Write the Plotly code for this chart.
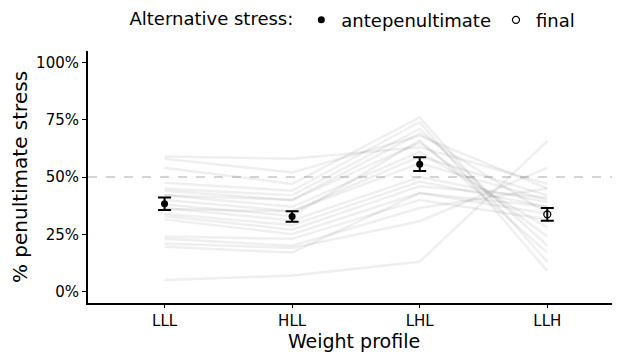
import plotly.graph_objects as go

categories = ["LLL", "HLL", "LHL", "LLH"]

# individual participant profiles (% penultimate stress)
participants = [
    [59, 58, 63, 47],
    [58, 52, 68, 45],
    [54, 47, 76, 13],
    [47.5, 44, 74, 9],
    [45, 42, 71, 20],
    [44, 40, 65, 24],
    [42, 37, 61, 28],
    [40, 35, 59, 42],
    [38, 33, 66, 17],
    [36.5, 31, 50, 39],
    [34, 29, 48, 37],
    [33, 27, 46, 41],
    [31.5, 25, 43, 34],
    [24, 23, 40, 31.5],
    [23, 20, 36.5, 45],
    [21, 19, 30.7, 54],
    [19.5, 17, 43, 37],
    [5, 7, 13, 65.6],
    [42, 40, 69, 34],
    [36, 35, 56, 40],
]

# group means and standard errors
antepen_cats = ["LLL", "HLL", "LHL"]
antepen_mean = [38.3, 32.8, 55.6]
antepen_se = [2.7, 2.3, 3.0]
final_cats = ["LLH"]
final_mean = [33.7]
final_se = [2.8]

yticks = [0, 25, 50, 75, 100]
ytick_text = ["0%", "25%", "50%", "75%", "100%"]

FONT = "DejaVu Sans"

fig = go.Figure()
for p in participants:
    fig.add_trace(go.Scatter(
        x=categories, y=p, mode="lines",
        line=dict(color="rgba(110,110,110,0.11)", width=2.5),
        showlegend=False, hoverinfo="skip"))

fig.add_trace(go.Scatter(
    x=antepen_cats, y=antepen_mean, mode="markers", name="antepenultimate",
    marker=dict(symbol="circle", size=7, color="black"),
    error_y=dict(type="data", array=antepen_se, color="black", thickness=2, width=6.5)))
fig.add_trace(go.Scatter(
    x=final_cats, y=final_mean, mode="markers", name="final",
    marker=dict(symbol="circle-open", size=7, color="black", line=dict(width=1.3)),
    error_y=dict(type="data", array=final_se, color="black", thickness=2, width=6.5)))

fig.add_shape(type="line", xref="paper", x0=0, x1=1, yref="y", y0=50, y1=50,
              line=dict(color="#aaaaaa", width=1, dash="dash"), layer="below")

fig.update_layout(
    width=612, height=346,
    margin=dict(l=80, r=0, t=43, b=51, autoexpand=False),
    plot_bgcolor="white", paper_bgcolor="white",
    font=dict(family=FONT, size=15, color="black"),
    legend=dict(orientation="h", x=0.5, xanchor="center",
                yref="container", y=0.965, yanchor="middle",
                title=dict(text="Alternative stress:", font=dict(size=18)),
                font=dict(size=18), itemwidth=30, tracegroupgap=0),
    xaxis=dict(type="category", categoryorder="array", categoryarray=categories,
               range=[-0.6, 3.57], showline=True, linecolor="black", linewidth=2,
               ticks="outside", ticklen=3, tickcolor="black", showgrid=False,
               automargin=False,
               title=dict(text="Weight profile", font=dict(size=19), standoff=2),
               tickfont=dict(size=15), zeroline=False),
    yaxis=dict(range=[-5, 105], tickvals=yticks, ticktext=ytick_text,
               showline=True, linecolor="black", linewidth=2,
               ticks="outside", ticklen=4, tickcolor="black", showgrid=False,
               zeroline=False, tickfont=dict(size=15), automargin=False,
               title=dict(text="% penultimate stress", font=dict(size=20), standoff=6)),
)

fig.write_html("out.html")
